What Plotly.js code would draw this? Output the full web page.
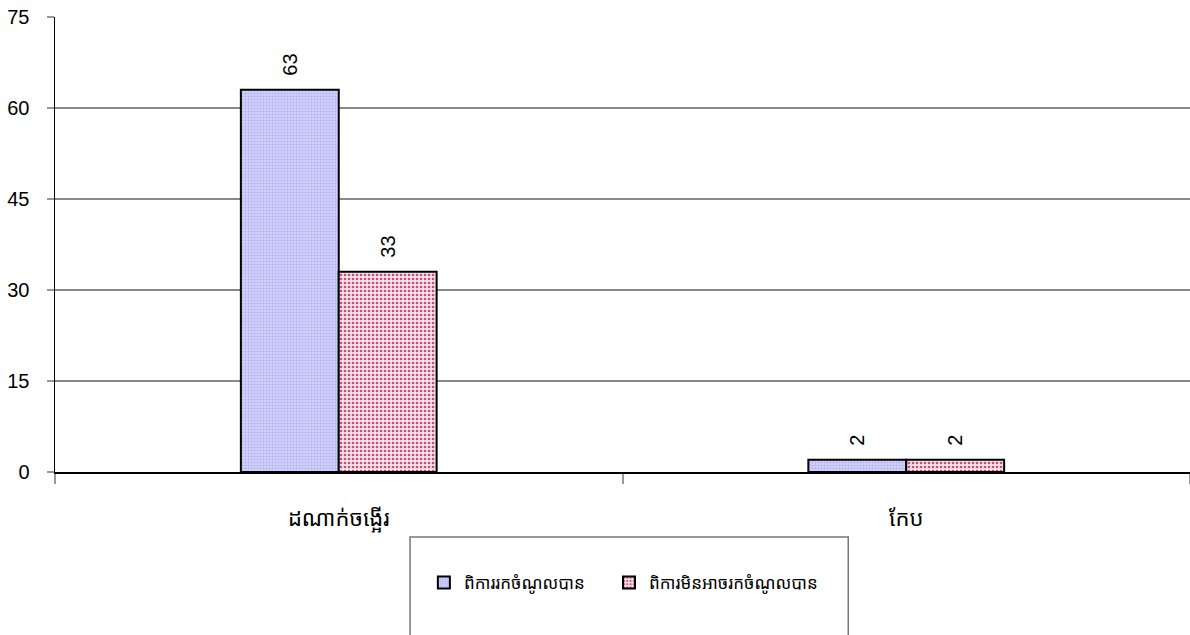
<!DOCTYPE html>
<html>
<head>
<meta charset="utf-8">
<script src="https://cdn.plot.ly/plotly-3.0.1.min.js"></script>
<style>html,body{margin:0;padding:0;background:#fff;}#chart{width:1190px;height:635px;}</style>
</head>
<body>
<div id="chart"></div>
<script>
const categories = ["ដណាក់ចង្អើរ", "កែប"];
const seriesNames = ["ពិការរកចំណូលបាន", "ពិការមិនអាចរកចំណូលបាន"];
const seriesA = [63, 2];
const seriesB = [33, 2];
const yTicks = [0, 15, 30, 45, 60, 75];

const khmerFont = "'Noto Sans Khmer', 'Noto Serif Khmer', 'Khmer OS', 'Noto Sans', sans-serif";
const latinFont = "'Liberation Sans', Arial, sans-serif";
const pad = '\u00a0\u00a0';

const traces = [
  {
    type: 'bar', name: seriesNames[0], x: categories, y: seriesA, legend: 'legend',
    text: seriesA.map(v => pad + v), textposition: 'outside', textangle: -90,
    textfont: {family: latinFont, size: 20, color: '#000'},
    cliponaxis: false,
    marker: {color: '#ccccff', line: {color: '#000', width: 2},
      pattern: {shape: '.', bgcolor: '#d4d4ff', fgcolor: '#b0b0f0', size: 3, solidity: 0.4, fillmode: 'replace'}}
  },
  {
    type: 'bar', name: seriesNames[1], x: categories, y: seriesB, legend: 'legend2',
    text: seriesB.map(v => pad + v), textposition: 'outside', textangle: -90,
    textfont: {family: latinFont, size: 20, color: '#000'},
    cliponaxis: false,
    marker: {color: '#ffffff', line: {color: '#000', width: 2},
      pattern: {shape: '.', bgcolor: '#f4e4ea', fgcolor: '#c4507a', size: 4, solidity: 0.35, fillmode: 'replace'}}
  }
];

const legendBase = {
  orientation: 'h', xanchor: 'left', y: -0.244, yanchor: 'middle',
  font: {family: khmerFont, size: 17, color: '#000'},
  bgcolor: 'rgba(0,0,0,0)', borderwidth: 0, itemwidth: 30
};

const layout = {
  width: 1190, height: 635,
  margin: {l: 55, r: 0, t: 17, b: 163},
  paper_bgcolor: '#fff', plot_bgcolor: '#fff',
  barmode: 'group', bargap: 0.655, bargroupgap: 0,
  showlegend: true,
  legend: Object.assign({}, legendBase, {x: 0.325}),
  legend2: Object.assign({}, legendBase, {x: 0.4881}),
  xaxis: {
    type: 'category', showline: true, linecolor: '#000', linewidth: 2,
    ticks: 'outside', tickson: 'boundaries', ticklen: 10, tickcolor: '#999', tickwidth: 2,
    tickfont: {family: khmerFont, size: 22, color: '#000'},
    showgrid: false, zeroline: false, ticklabelstandoff: 26
  },
  yaxis: {
    range: [0, 75], tickvals: yTicks, ticktext: yTicks.map(String),
    showline: true, linecolor: '#000', linewidth: 1.5,
    ticks: 'outside', ticklen: 7, tickcolor: '#999', tickwidth: 1.5,
    showgrid: true, gridcolor: '#888', gridwidth: 1.5, zeroline: false,
    tickfont: {family: latinFont, size: 20, color: '#000'}, ticklabelstandoff: 13
  },
  shapes: [
    {type: 'rect', xref: 'paper', yref: 'paper', x0: 0.3128, x1: 0.6989, y0: -0.143, y1: -0.40,
     line: {color: '#777', width: 1.5}, fillcolor: 'rgba(0,0,0,0)', layer: 'below'}
  ]
};

Plotly.newPlot('chart', traces, layout, {displayModeBar: false, staticPlot: true});
</script>
</body>
</html>
